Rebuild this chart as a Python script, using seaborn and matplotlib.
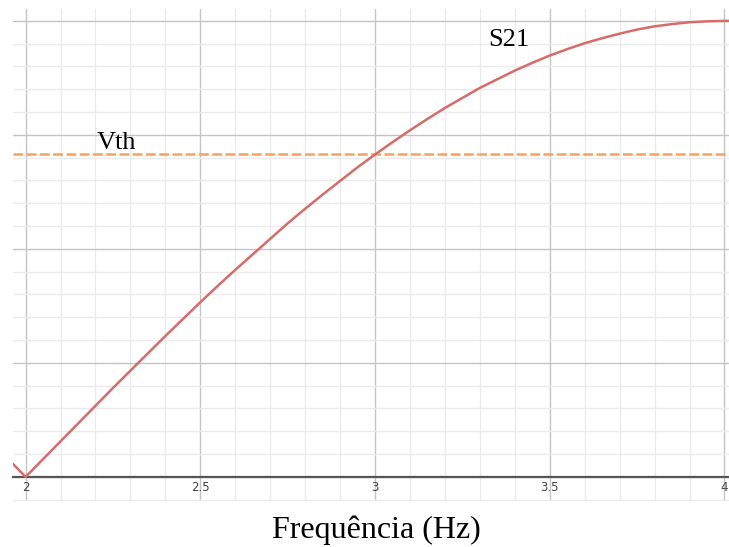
import matplotlib
matplotlib.use("Agg")
import matplotlib.pyplot as plt
import seaborn as sns
import numpy as np
import pandas as pd

# Data
freq = [1.963, 2.0, 2.05, 2.1, 2.15, 2.2, 2.25, 2.3, 2.35, 2.4, 2.45, 2.5,
        2.55, 2.6, 2.65, 2.7, 2.75, 2.8, 2.85, 2.9, 2.95, 3.0,
        3.05, 3.1, 3.15, 3.2, 3.25, 3.3, 3.35, 3.4, 3.45, 3.5,
        3.55, 3.6, 3.65, 3.7, 3.75, 3.8, 3.85, 3.9, 3.95, 4.0, 4.013]
s21 = [0.029, 0.0, 0.039, 0.078, 0.117, 0.156, 0.195, 0.233, 0.271, 0.309, 0.346, 0.383,
       0.419, 0.454, 0.488, 0.522, 0.556, 0.588, 0.619, 0.649, 0.679, 0.707,
       0.734, 0.760, 0.785, 0.809, 0.831, 0.853, 0.872, 0.891, 0.908, 0.924,
       0.938, 0.951, 0.962, 0.972, 0.981, 0.988, 0.993, 0.997, 0.999, 1.0, 1.0]
vth = 0.707
xticks = [2, 2.5, 3, 3.5, 4]
xtick_labels = ["2", "2.5", "3", "3.5", "4"]

sns.set_style("white")
plt.rcParams['font.family'] = ['DejaVu Sans']

fig = plt.figure(figsize=(7.29, 5.47), dpi=100)
ax = fig.add_axes([0.0174, 0.084, 1 - 0.0174, 0.9835 - 0.084])

df = pd.DataFrame({"f": freq, "s21": s21})
sns.lineplot(data=df, x="f", y="s21", ax=ax, color="#d66c68", linewidth=1.8, zorder=5)
ax.axhline(vth, color="#f9a15a", linewidth=1.8, linestyle=(0, (3.9, 1.4)), zorder=4)

ax.set_xticks(xticks)
ax.set_xticklabels(xtick_labels)
ax.set_xticks(np.arange(2.0, 4.05, 0.1), minor=True)
ax.set_yticks([0.25, 0.5, 0.75, 1.0])
ax.set_yticks(np.arange(-0.05, 1.03, 0.05), minor=True)
ax.set_yticklabels([])
ax.set_xlim(1.963, 4.013)
ax.set_ylim(-0.053, 1.026)
ax.tick_params(axis='y', which='both', length=0, left=False, labelleft=False)
ax.tick_params(axis='x', which='both', length=0, pad=3, labelsize=8.5, labelcolor="#444444")

ax.grid(which='major', color="#c4c4c4", linewidth=1.0)
ax.grid(which='minor', color="#ebebeb", linewidth=1.0)
ax.set_axisbelow(True)

for s in ['top', 'right', 'left']:
    ax.spines[s].set_visible(False)
ax.spines['bottom'].set_position(('data', 0))
ax.spines['bottom'].set_color("#555555")
ax.spines['bottom'].set_linewidth(1.6)
ax.spines['bottom'].set_zorder(3)

ax.set_xlabel("")
ax.set_ylabel("")

serif = ['Liberation Serif', 'DejaVu Serif']
ax.text(3.324, 0.958, "S21", family=serif, fontsize=19, ha='left', va='center', color='black')
ax.text(2.204, 0.732, "Vth", family=serif, fontsize=19, ha='left', va='center', color='black')
fig.text(376 / 729, 1 - 530 / 547, "Frequência (Hz)", family=serif, fontsize=23,
         ha='center', va='center', color='black')

fig.savefig("out.png", dpi=100)
